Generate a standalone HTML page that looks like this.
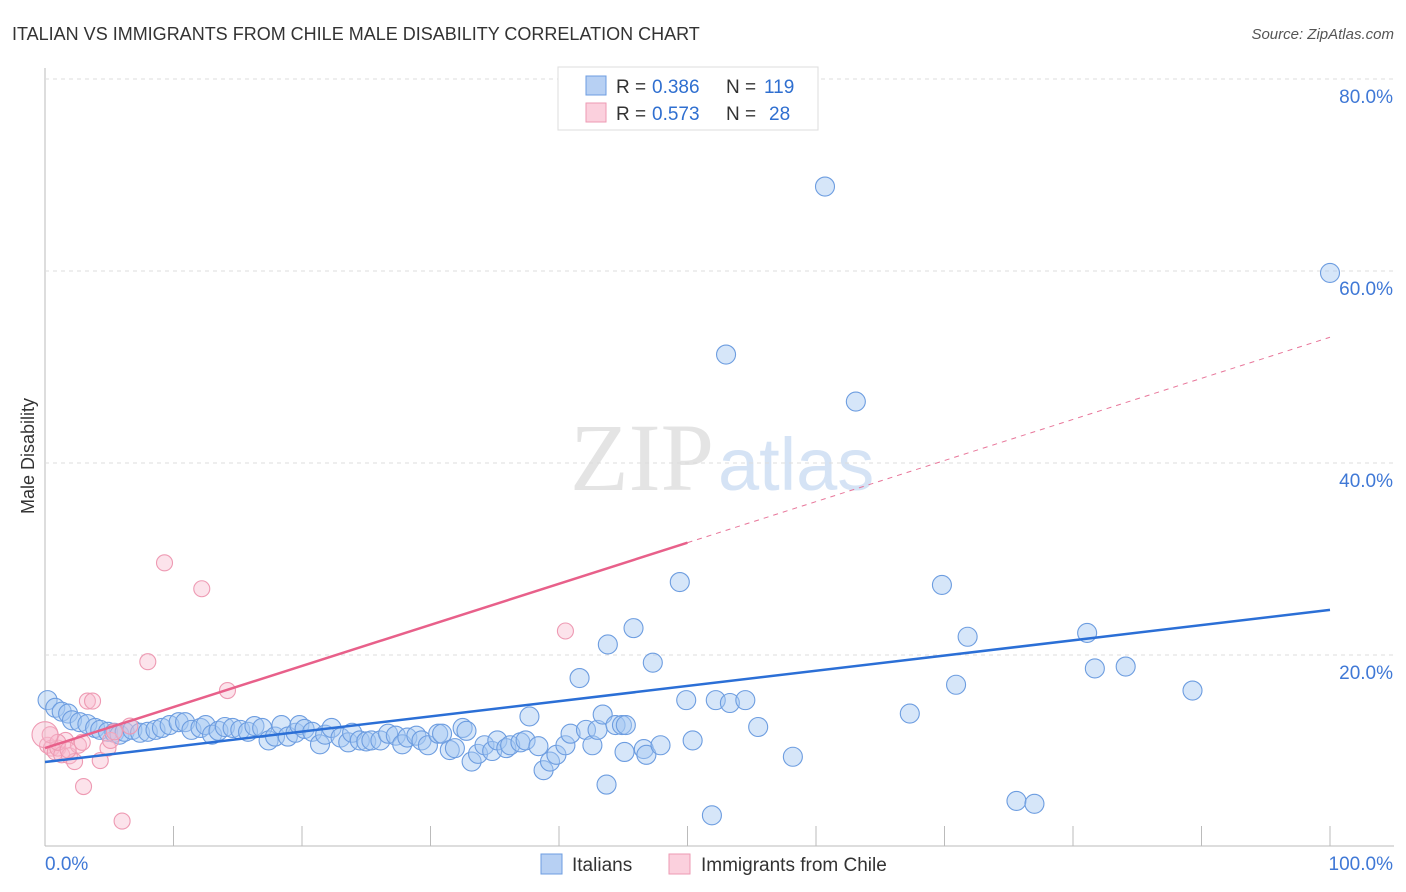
<!DOCTYPE html>
<html><head><meta charset="utf-8"><style>
body{margin:0;background:#fff;font-family:"Liberation Sans",sans-serif;}
svg{display:block}
</style></head><body>
<svg id="c" width="1406" height="892">
<text x="12" y="40" font-size="18" fill="#333">ITALIAN VS IMMIGRANTS FROM CHILE MALE DISABILITY CORRELATION CHART</text>
<text x="1394" y="39" font-size="15" fill="#555" font-style="italic" text-anchor="end">Source: ZipAtlas.com</text>
<text x="714" y="490" font-size="96" fill="#e4e4e4" text-anchor="end" font-family="Liberation Serif">ZIP</text>
<text x="718" y="490" font-size="74" fill="#d5e3f5">atlas</text>
<g id="grid"></g><g id="marks"></g>
<text transform="translate(34,456) rotate(-90)" font-size="18" fill="#333" text-anchor="middle">Male Disability</text>
<g>
<rect x="558" y="67" width="260" height="63" fill="#fff" stroke="#ddd"/>
<rect x="586" y="76" width="20" height="19" fill="#b7d0f3" stroke="#6d9de0"/>
<rect x="586" y="103" width="20" height="19" fill="#fbd0dd" stroke="#ee9ab3"/>
<text x="616" y="93" font-size="19" fill="#333">R =</text>
<text x="652" y="93" font-size="19" fill="#2f6fd0">0.386</text>
<text x="726" y="93" font-size="19" fill="#333">N =</text>
<text x="764" y="93" font-size="19" fill="#2f6fd0">119</text>
<text x="616" y="120" font-size="19" fill="#333">R =</text>
<text x="652" y="120" font-size="19" fill="#2f6fd0">0.573</text>
<text x="726" y="120" font-size="19" fill="#333">N =</text>
<text x="769" y="120" font-size="19" fill="#2f6fd0">28</text>
</g>
<g>
<rect x="541" y="854" width="21" height="20" fill="#b7d0f3" stroke="#6d9de0"/>
<text x="572" y="871" font-size="19" fill="#333">Italians</text>
<rect x="669" y="854" width="21" height="20" fill="#fbd0dd" stroke="#ee9ab3"/>
<text x="701" y="871" font-size="19" fill="#333">Immigrants from Chile</text>
</g>
</svg>
<script>
const blueX=[0.2,0.8,1.3,1.8,2.1,2.7,3.3,3.9,4.3,4.9,5.4,5.8,6.2,6.8,7.4,8.0,8.6,9.1,9.7,10.4,10.9,11.4,12.1,12.5,13.0,13.5,14.0,14.6,15.2,15.8,16.3,16.9,17.4,17.9,18.4,18.9,19.5,19.8,20.2,20.8,21.4,21.8,22.3,23.0,23.6,23.9,24.5,25.0,25.4,26.1,26.7,27.3,27.8,28.2,28.9,29.3,29.8,30.6,30.9,31.5,31.9,32.5,32.8,33.2,33.7,34.2,34.8,35.2,35.9,36.2,37.0,37.4,37.7,38.4,38.8,39.3,39.8,40.5,40.9,41.6,42.1,42.6,43.0,43.4,43.7,43.8,44.4,44.9,45.1,45.2,45.8,46.6,46.8,47.3,47.9,49.4,49.9,50.4,51.9,52.2,53.3,54.5,55.5,53.0,58.2,60.7,63.1,67.3,69.8,70.9,71.8,75.6,77.0,81.1,81.7,84.1,89.3,100];
const blueY=[15.3,14.5,14.1,13.9,13.2,13.0,12.8,12.4,12.2,12.0,11.9,11.7,12.0,12.2,11.9,12.0,12.2,12.4,12.7,13.0,13.0,12.2,12.4,12.7,11.7,12.1,12.5,12.4,12.2,12.0,12.6,12.4,11.1,11.5,12.7,11.5,11.9,12.7,12.3,12.0,10.7,11.7,12.4,11.4,10.9,11.9,11.1,11.0,11.1,11.1,11.8,11.6,10.7,11.4,11.6,11.1,10.6,11.8,11.8,10.1,10.3,12.4,12.1,8.9,9.7,10.6,10.0,11.1,10.3,10.6,10.9,11.1,13.6,10.5,8.0,8.9,9.6,10.6,11.8,17.6,12.2,10.6,12.2,13.8,6.5,21.1,12.7,12.7,9.9,12.7,22.8,10.2,9.6,19.2,10.6,27.6,15.3,11.1,3.3,15.3,15.0,15.3,12.5,51.3,9.4,68.8,46.4,13.9,27.3,16.9,21.9,4.8,4.5,22.3,18.6,18.8,16.3,59.8];
const pinkX=[0.2,0.5,0.8,1.0,1.3,1.6,1.9,2.3,2.6,2.9,3.0,3.3,3.7,4.3,4.9,6.0,6.6,8.0,9.3,12.2,14.2,40.5,0.4,1.0,1.8,5.1,5.4,0.0];
const pinkY=[10.6,10.3,9.9,10.3,9.6,11.1,9.5,8.9,10.6,10.9,6.3,15.2,15.2,9.0,10.3,2.7,12.6,19.3,29.6,26.9,16.3,22.5,11.7,10.9,10.1,11.1,12.0,11.7];
const blueFit=[8.85,24.7];   // value at x=0 and x=100
const pinkFit=[10.3,53.1];
const pinkSolidEnd=50;
const yTicks=[20,40,60,80];
const yTickLabels=["20.0%","40.0%","60.0%","80.0%"];
const xTicks=[0,10,20,30,40,50,60,70,80,90,100];

const X0=45,X1=1330,Y0=847,PX=9.6;
const sx=v=>X0+(X1-X0)*v/100;
const sy=v=>Y0-PX*v;
const NS="http://www.w3.org/2000/svg";
function mk(t,a,p){const e=document.createElementNS(NS,t);for(const k in a)e.setAttribute(k,a[k]);p.appendChild(e);return e;}
const grid=document.getElementById('grid'),marks=document.getElementById('marks');
let ax=mk('line',{x1:45,y1:68,x2:45,y2:846,stroke:'#bbb'},grid);


let bx=mk('line',{x1:45,y1:846,x2:1394,y2:846,stroke:'#bbb'},grid);


yTicks.forEach((v,i)=>{
 const g=mk('line',{x1:45,x2:1394,y1:sy(v),y2:sy(v),stroke:'#ddd','stroke-dasharray':'4,4'},grid);
 
 
 const t=mk('text',{x:1393,y:sy(v)+24,'font-size':19,fill:'#3f78d6','text-anchor':'end'},grid);
 t.textContent=yTickLabels[i];
 
 
});
xTicks.forEach(v=>{
 if(v===0)return;
 const l=mk('line',{x1:sx(v),x2:sx(v),y1:826,y2:846,stroke:'#bbb'},grid);
 
 
});
let t0=mk('text',{x:45,y:870,'font-size':19,fill:'#3f78d6'},grid);t0.textContent='0.0%';


let t1=mk('text',{x:1393,y:870,'font-size':19,fill:'#3f78d6','text-anchor':'end'},grid);t1.textContent='100.0%';



blueX.forEach((x,i)=>{
 const c=mk('circle',{cx:sx(x),cy:sy(blueY[i]),r:9.5,fill:'rgba(165,200,242,0.45)',stroke:'#6d9de0','stroke-width':1.1},marks);
 
 
});
pinkX.forEach((x,i)=>{
 const c=mk('circle',{cx:sx(x),cy:sy(pinkY[i]),r:i===27?13:8,fill:'rgba(248,185,205,0.4)',stroke:'#ee9ab3','stroke-width':1.1},marks);
 
 
});
const pf=x=>pinkFit[0]+(pinkFit[1]-pinkFit[0])*x/100;
let pd=mk('line',{x1:sx(pinkSolidEnd),y1:sy(pf(pinkSolidEnd)),x2:sx(100),y2:sy(pf(100)),stroke:'#e8769a','stroke-width':1,'stroke-dasharray':'5,5'},marks);


let ps=mk('line',{x1:sx(0),y1:sy(pf(0)),x2:sx(pinkSolidEnd),y2:sy(pf(pinkSolidEnd)),stroke:'#e8608a','stroke-width':2.5},marks);


let bl=mk('line',{x1:sx(0),y1:sy(blueFit[0]),x2:sx(100),y2:sy(blueFit[1]),stroke:'#2b6fd6','stroke-width':2.5},marks);


</script>
</body></html>
